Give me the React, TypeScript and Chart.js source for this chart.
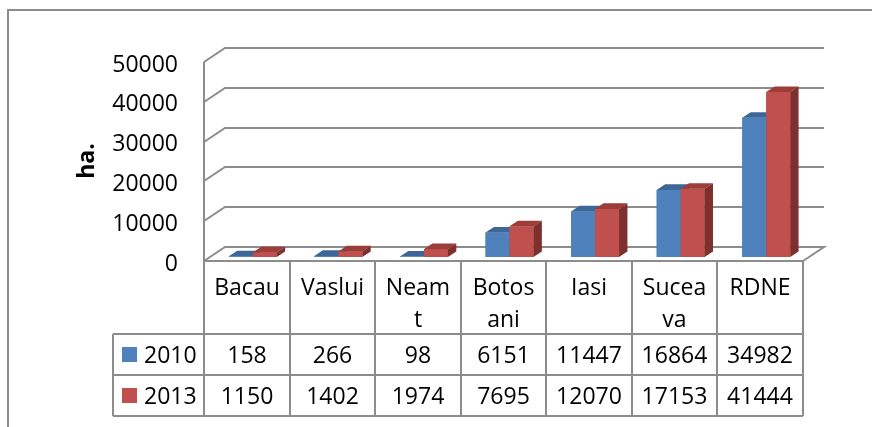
import React, { useEffect, useRef } from "react";
import { Chart, registerables } from "chart.js";

Chart.register(...registerables);

// ---- data ----
const categories = ["Bacau", "Vaslui", "Neamt", "Botosani", "Iasi", "Suceava", "RDNE"];
const headerLines = [["Bacau"], ["Vaslui"], ["Neam", "t"], ["Botos", "ani"], ["Iasi"], ["Sucea", "va"], ["RDNE"]];
const seriesNames = ["2010", "2013"];
const values2010 = [158, 266, 98, 6151, 11447, 16864, 34982];
const values2013 = [1150, 1402, 1974, 7695, 12070, 17153, 41444];
const yMin = 0;
const yMax = 50000;
const yStep = 10000;
const yTitle = "ha.";

// ---- styles ----
const FONT = '"Open Sans", "Liberation Sans", sans-serif';
const GRID = "#8c8c8c";
const FRONT = ["#4F81BD", "#C0504D"];
const TOP = ["#3D6699", "#9D3D3A"];
const SIDE = ["#375C8A", "#7E302E"];
// plane offsets relative to the bar plane
const FX = -6, FY = 4; // front plane
const BX = 15, BY = -10; // back plane
const DX = 8.4, DY = 5.6; // bar depth

const excel3d = {
  id: "excel3d",
  beforeDraw(chart: any) {
    const ctx = chart.ctx;
    ctx.save();
    ctx.fillStyle = "#fff";
    ctx.fillRect(0, 0, chart.width, chart.height);
    ctx.strokeStyle = GRID;
    ctx.lineWidth = 2;
    ctx.strokeRect(8, 10, chart.width + 40, chart.height + 40);
    // y title
    ctx.translate(87, 161);
    ctx.rotate(-Math.PI / 2);
    ctx.fillStyle = "#000";
    ctx.font = `bold 23px ${FONT}`;
    ctx.textAlign = "center";
    ctx.textBaseline = "middle";
    ctx.fillText(yTitle, 0, 0);
    ctx.restore();
  },
  beforeDatasetsDraw(chart: any) {
    const { ctx, chartArea: a } = chart;
    const y = chart.scales.y;
    ctx.save();
    ctx.strokeStyle = GRID;
    ctx.lineWidth = 2;
    ctx.lineJoin = "miter";
    y.ticks.forEach((t: any) => {
      const py = Math.round(y.getPixelForValue(t.value));
      ctx.beginPath();
      ctx.moveTo(Math.round(a.left + FX), py + FY);
      ctx.lineTo(Math.round(a.left + BX), py + BY);
      ctx.lineTo(Math.round(a.right + BX), py + BY);
      if (t.value === yMin) ctx.lineTo(Math.round(a.right + FX), py + FY);
      ctx.stroke();
    });
    ctx.restore();
  },
  afterDatasetsDraw(chart: any) {
    const { ctx } = chart;
    const n = categories.length;
    ctx.save();
    for (let i = 0; i < n; i++) {
      for (let d = 0; d < chart.data.datasets.length; d++) {
        const el = chart.getDatasetMeta(d).data[i];
        const { x, y, base, width } = el.getProps(["x", "y", "base", "width"], true);
        const l = x - width / 2;
        const r = x + width / 2;
        ctx.fillStyle = FRONT[d];
        ctx.fillRect(l, y, width, base - y);
        ctx.fillStyle = TOP[d];
        ctx.beginPath();
        ctx.moveTo(l, y);
        ctx.lineTo(r, y);
        ctx.lineTo(r + DX, y - DY);
        ctx.lineTo(l + DX, y - DY);
        ctx.closePath();
        ctx.fill();
        ctx.fillStyle = SIDE[d];
        ctx.beginPath();
        ctx.moveTo(r, y);
        ctx.lineTo(r + DX, y - DY);
        ctx.lineTo(r + DX, base - DY);
        ctx.lineTo(r, base);
        ctx.closePath();
        ctx.fill();
      }
    }
    ctx.restore();
  },
  afterDraw(chart: any) {
    const { ctx, chartArea: a } = chart;
    const x = chart.scales.x;
    const y = chart.scales.y;
    const n = categories.length;
    const half = (x.getPixelForValue(1) - x.getPixelForValue(0)) / 2;
    const cols: number[] = [];
    for (let i = 0; i < n; i++) cols.push(Math.round(x.getPixelForValue(i) - half + FX));
    cols.push(Math.round(a.right + FX));
    const top = Math.round(y.getPixelForValue(yMin)) + FY;
    const headH = 73;
    const rowH = 41;
    const legendLeft = 113;
    const rows = [top + headH, top + headH + rowH, top + headH + 2 * rowH];
    const axisTop = Math.round(y.getPixelForValue(yMax)) + FY;

    ctx.save();
    ctx.strokeStyle = GRID;
    ctx.lineWidth = 2;
    ctx.beginPath();
    ctx.moveTo(cols[0], top);
    ctx.lineTo(cols[n], top);
    rows.forEach((ry) => {
      ctx.moveTo(legendLeft, ry);
      ctx.lineTo(cols[n], ry);
    });
    ctx.moveTo(cols[0], axisTop);
    ctx.lineTo(cols[0], rows[2]);
    for (let i = 1; i <= n; i++) {
      ctx.moveTo(cols[i], top);
      ctx.lineTo(cols[i], rows[2]);
    }
    ctx.moveTo(legendLeft, rows[0]);
    ctx.lineTo(legendLeft, rows[2]);
    ctx.stroke();

    ctx.fillStyle = "#000";
    ctx.font = `23px ${FONT}`;
    ctx.textAlign = "center";
    ctx.textBaseline = "alphabetic";
    for (let i = 0; i < n; i++) {
      const cx = (cols[i] + cols[i + 1]) / 2;
      headerLines[i].forEach((ln, k) => ctx.fillText(ln, cx, top + 34 + k * 32));
      chart.data.datasets.forEach((ds: any, d: number) => {
        ctx.fillText(String(ds.data[i]), cx, rows[d] + 29);
      });
    }
    ctx.textAlign = "left";
    chart.data.datasets.forEach((ds: any, d: number) => {
      ctx.fillStyle = FRONT[d];
      ctx.fillRect(122, rows[d] + 13, 15, 15);
      ctx.fillStyle = "#000";
      ctx.fillText(ds.label, 144, rows[d] + 29);
    });
    ctx.restore();
  },
};

export default function App() {
  const ref = useRef<HTMLCanvasElement>(null);
  useEffect(() => {
    const chart = new Chart(ref.current as HTMLCanvasElement, {
      type: "bar",
      data: {
        labels: categories,
        datasets: [
          { label: seriesNames[0], data: values2010, backgroundColor: FRONT[0], borderWidth: 0, barPercentage: 1, categoryPercentage: 0.56 },
          { label: seriesNames[1], data: values2013, backgroundColor: FRONT[1], borderWidth: 0, barPercentage: 1, categoryPercentage: 0.56 },
        ],
      },
      options: {
        animation: false,
        responsive: false,
        devicePixelRatio: 1,
        layout: { padding: { left: 0, right: 63, top: 58, bottom: 170 } },
        plugins: { legend: { display: false }, tooltip: { enabled: false }, title: { display: false } },
        scales: {
          x: { display: false, offset: true },
          y: {
            min: yMin,
            max: yMax,
            ticks: {
              stepSize: yStep,
              padding: 32,
              labelOffset: 7,
              color: "#000",
              font: { family: FONT, size: 23 },
              callback: (v: any) => String(v),
            },
            grid: { display: false, drawTicks: false },
            border: { display: false },
            afterFit: (s: any) => {
              s.width = 210;
            },
          },
        },
      },
      plugins: [excel3d],
    } as any);
    return () => chart.destroy();
  }, []);
  return (
    <div style={{ position: "fixed", left: 0, top: 0, width: 872, height: 427, background: "#fff" }}>
      <canvas ref={ref} width={872} height={427} style={{ display: "block", width: 872, height: 427 }} />
    </div>
  );
}
